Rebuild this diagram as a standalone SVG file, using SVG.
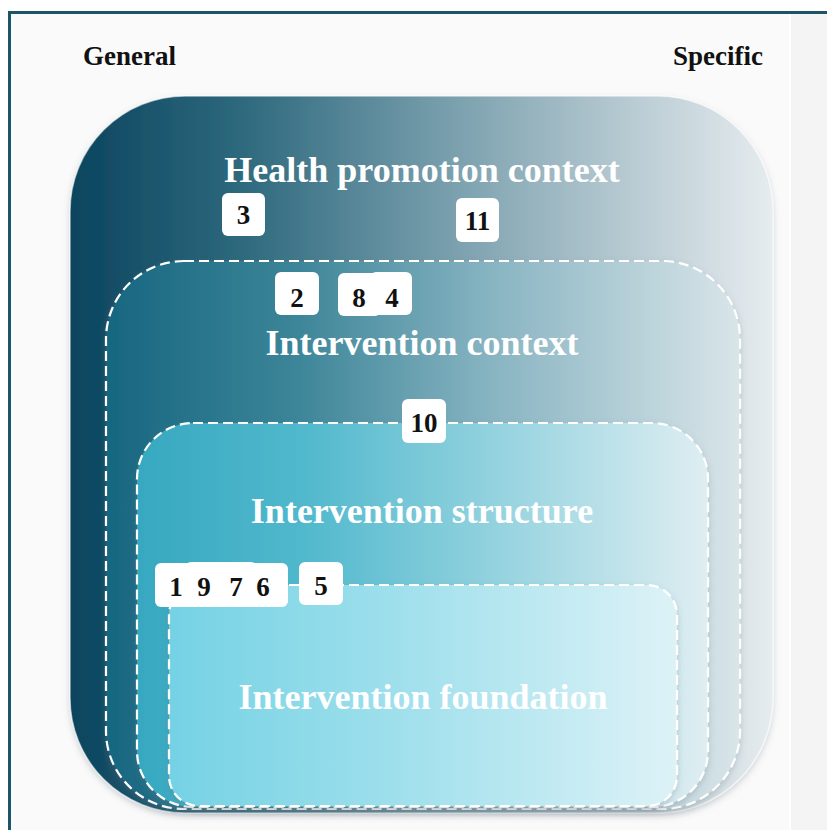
<svg xmlns="http://www.w3.org/2000/svg" width="827" height="830" viewBox="0 0 827 830">
  <defs>
    <linearGradient id="gOuter" gradientUnits="userSpaceOnUse" x1="70" y1="0" x2="773" y2="0">
      <stop offset="0" stop-color="#0a445e"/>
      <stop offset="0.25" stop-color="#2f6a7e"/>
      <stop offset="0.5" stop-color="#6f98a7"/>
      <stop offset="0.75" stop-color="#adc3cc"/>
      <stop offset="1" stop-color="#e6ecef"/>
    </linearGradient>
    <linearGradient id="gContext" gradientUnits="userSpaceOnUse" x1="106" y1="0" x2="740" y2="0">
      <stop offset="0" stop-color="#176680"/>
      <stop offset="0.3" stop-color="#3c8598"/>
      <stop offset="0.6" stop-color="#86b3c1"/>
      <stop offset="1" stop-color="#d9e5e9"/>
    </linearGradient>
    <linearGradient id="gStructure" gradientUnits="userSpaceOnUse" x1="137" y1="0" x2="708" y2="0">
      <stop offset="0" stop-color="#36a8c0"/>
      <stop offset="0.3" stop-color="#52b9cd"/>
      <stop offset="0.65" stop-color="#98d4e0"/>
      <stop offset="1" stop-color="#dfeef2"/>
    </linearGradient>
    <linearGradient id="gFoundation" gradientUnits="userSpaceOnUse" x1="169" y1="0" x2="677" y2="0">
      <stop offset="0" stop-color="#74d2e4"/>
      <stop offset="0.5" stop-color="#a4e1ed"/>
      <stop offset="1" stop-color="#ddf2f7"/>
    </linearGradient>
    <filter id="shadow" x="-10%" y="-10%" width="120%" height="125%">
      <feDropShadow dx="0" dy="3" stdDeviation="3" flood-color="#6b7780" flood-opacity="0.3"/>
    </filter>
  </defs>
  <style>
    .axis { font-family: "Liberation Serif", "Times New Roman", serif; font-weight: bold; font-size: 27px; fill: #111111; }
    .title { font-family: "Liberation Serif", "Times New Roman", serif; font-weight: bold; font-size: 36px; fill: #ffffff; text-anchor: middle; }
    .layer { filter: url(#shadow); }
    .dash { stroke: #ffffff; stroke-width: 2.2; stroke-dasharray: 10 5; }
    .badge rect { fill: #ffffff; }
    .badge text { font-family: "Liberation Serif", "Times New Roman", serif; font-weight: bold; font-size: 27px; fill: #111111; text-anchor: middle; }
  </style>

  <!-- page and frame -->
  <rect x="0" y="0" width="827" height="830" fill="#ffffff"/>
  <rect x="9.5" y="12.5" width="830" height="830" fill="#fafafa" stroke="#1c5568" stroke-width="3"/>
  <rect x="790" y="14" width="37" height="816" fill="#f4f4f4"/>
  <line x1="790" y1="14" x2="790" y2="830" stroke="#ffffff" stroke-width="2"/>

  <!-- axis labels -->
  <text class="axis" x="83" y="65">General</text>
  <text class="axis" x="673" y="65">Specific</text>

  <!-- nested layers -->
  <g id="health-promotion-context">
    <rect class="layer" x="70" y="96" width="703" height="717" rx="115" ry="115" fill="url(#gOuter)" stroke="#ffffff" stroke-opacity="0.6" stroke-width="1.5"/>
    <text class="title" x="422" y="182">Health promotion context</text>
  </g>

  <g id="intervention-context">
    <rect class="layer dash" x="106" y="261" width="634" height="548" rx="78" ry="78" fill="url(#gContext)"/>
    <text class="title" x="422" y="355">Intervention context</text>
  </g>

  <g id="intervention-structure">
    <rect class="layer dash" x="137" y="423" width="571" height="384" rx="56" ry="56" fill="url(#gStructure)"/>
    <text class="title" x="422" y="523">Intervention structure</text>
  </g>

  <g id="intervention-foundation">
    <rect class="layer dash" x="169" y="585" width="508" height="221" rx="30" ry="30" fill="url(#gFoundation)"/>
    <text class="title" x="423" y="709">Intervention foundation</text>
  </g>

  <!-- numbered badges -->
  <g id="badge-3" class="badge">
    <rect x="222" y="193" width="43" height="43" rx="6"/>
    <text x="243.5" y="224">3</text>
  </g>
  <g id="badge-11" class="badge">
    <rect x="456" y="198" width="43" height="44" rx="6"/>
    <text x="477.5" y="230">11</text>
  </g>
  <g id="badge-2" class="badge">
    <rect x="275" y="272" width="44" height="43" rx="6"/>
    <text x="297" y="307">2</text>
  </g>
  <g id="badge-8" class="badge">
    <rect x="338" y="273" width="43" height="43" rx="6"/>
    <text x="359" y="307">8</text>
  </g>
  <g id="badge-4" class="badge">
    <rect x="370" y="272" width="42" height="43" rx="6"/>
    <text x="392" y="307">4</text>
  </g>
  <g id="badge-10" class="badge">
    <rect x="402" y="399" width="44" height="44" rx="6"/>
    <text x="424" y="432">10</text>
  </g>
  <g id="badge-1" class="badge">
    <rect x="155" y="563" width="43" height="44" rx="6"/>
    <text x="176" y="596">1</text>
  </g>
  <g id="badge-9" class="badge">
    <rect x="185" y="562" width="43" height="45" rx="6"/>
    <text x="204" y="596">9</text>
  </g>
  <g id="badge-7" class="badge">
    <rect x="214" y="562" width="43" height="45" rx="6"/>
    <text x="236" y="596">7</text>
  </g>
  <g id="badge-6" class="badge">
    <rect x="245" y="563" width="43" height="44" rx="6"/>
    <text x="263" y="596">6</text>
  </g>
  <g id="badge-5" class="badge">
    <rect x="299" y="562" width="44" height="43" rx="6"/>
    <text x="321" y="595">5</text>
  </g>
</svg>
